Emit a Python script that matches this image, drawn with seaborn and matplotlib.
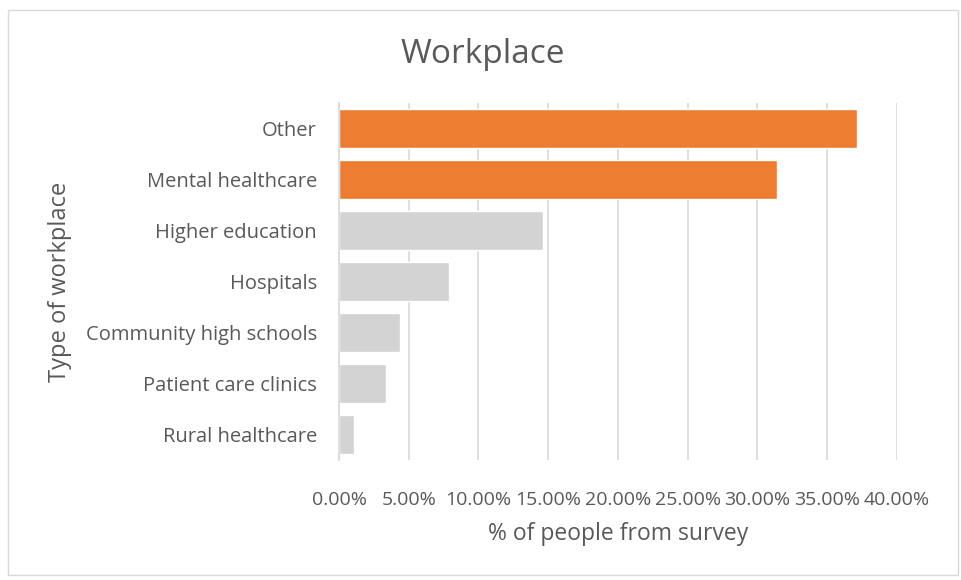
import matplotlib
matplotlib.use("Agg")
import matplotlib.pyplot as plt
import seaborn as sns
import pandas as pd
from matplotlib.ticker import PercentFormatter, MultipleLocator
from matplotlib.patches import Rectangle

categories = ["Other", "Mental healthcare", "Higher education", "Hospitals",
              "Community high schools", "Patient care clinics", "Rural healthcare"]
values = [37.1, 31.4, 14.6, 7.9, 4.4, 3.4, 1.1]
highlight = [True, True, False, False, False, False, False]

ORANGE = "#ED7D31"
GRAY = "#D3D3D3"
TEXT = "#595959"
GRID = "#D9D9D9"

df = pd.DataFrame({"category": categories, "value": values})
palette = {c: (ORANGE if h else GRAY) for c, h in zip(categories, highlight)}

sns.set_theme(style="white")
plt.rcParams["font.family"] = ["Open Sans", "DejaVu Sans"]

fig = plt.figure(figsize=(9.62, 5.8), dpi=100)
ax = fig.add_axes([0.3524, 0.2069, 0.58, 0.6155])

sns.barplot(data=df, y="category", x="value", hue="category", palette=palette,
            order=categories, width=0.76, legend=False, ax=ax, saturation=1)

ax.set_xlim(0, 40)
ax.xaxis.set_major_locator(MultipleLocator(5))
ax.xaxis.set_major_formatter(PercentFormatter(decimals=2))
ax.grid(axis="x", color=GRID, linewidth=1.2)
ax.set_axisbelow(True)
for s in ["top", "right", "bottom"]:
    ax.spines[s].set_visible(False)
ax.spines["left"].set_color(GRID)
ax.spines["left"].set_linewidth(1.2)
ax.tick_params(axis="both", length=0, colors=TEXT)
ax.tick_params(axis="x", pad=22, labelsize=14)
ax.tick_params(axis="y", pad=16, labelsize=14.5)

ax.set_xlabel("% of people from survey", color=TEXT, fontsize=16.5, labelpad=10)
ax.set_ylabel("Type of workplace", color=TEXT, fontsize=17, labelpad=6)
ax.yaxis.set_label_coords(-0.478, 0.5)

fig.text(0.502, 0.906, "Workplace", ha="center", va="center", color=TEXT, fontsize=24)

fig.patches.append(Rectangle((0.008, 0.008), 0.988, 0.975, transform=fig.transFigure,
                             fill=False, edgecolor=GRID, linewidth=1))

fig.savefig("out.png", dpi=100)
